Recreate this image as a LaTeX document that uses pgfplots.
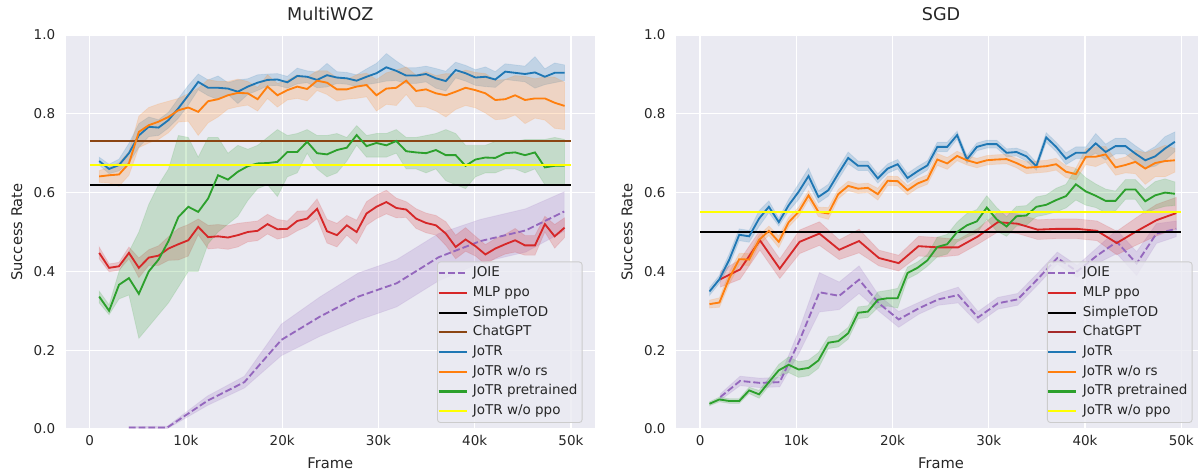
\documentclass[border=0pt]{standalone}
\usepackage{fontspec}
\setmainfont{DejaVu Sans}
\usepackage{pgfplots}
\pgfplotsset{compat=1.18}
\usepackage{pgfplotstable}
\usepgfplotslibrary{fillbetween}
\definecolor{bgc}{HTML}{EAEAF2}
\definecolor{txt}{HTML}{262626}
\definecolor{legc}{HTML}{CCCCCC}
\definecolor{tabblue}{HTML}{1F77B4}
\definecolor{taborange}{HTML}{FF7F0E}
\definecolor{tabgreen}{HTML}{2CA02C}
\definecolor{tabred}{HTML}{D62728}
\definecolor{tabpurple}{HTML}{9467BD}
\definecolor{yel}{HTML}{FFFF00}
\definecolor{chatA}{HTML}{8B4513}
\definecolor{chatB}{HTML}{A52A2A}

\pgfplotstableread{
x b be o oe g gl gu r re
0.98 0.680 0.010 0.641 0.015 0.336 0.320 0.350 0.447 0.015
2.01 0.660 0.012 0.644 0.020 0.300 0.290 0.315 0.409 0.010
3.04 0.670 0.015 0.646 0.030 0.366 0.330 0.400 0.413 0.010
4.07 0.700 0.025 0.674 0.030 0.383 0.340 0.450 0.447 0.015
5.10 0.745 0.030 0.754 0.040 0.343 0.230 0.500 0.409 0.025
6.13 0.767 0.025 0.771 0.045 0.400 0.260 0.570 0.435 0.020
7.15 0.765 0.020 0.780 0.045 0.430 0.290 0.620 0.440 0.025
8.18 0.784 0.020 0.792 0.040 0.477 0.320 0.660 0.458 0.030
9.21 0.814 0.025 0.809 0.030 0.538 0.360 0.745 0.469 0.040
10.24 0.847 0.025 0.816 0.035 0.564 0.400 0.740 0.479 0.040
11.27 0.881 0.020 0.805 0.060 0.551 0.400 0.690 0.513 0.020
12.30 0.866 0.020 0.832 0.055 0.585 0.470 0.740 0.487 0.030
13.33 0.866 0.030 0.837 0.045 0.644 0.500 0.740 0.489 0.030
14.36 0.864 0.015 0.847 0.035 0.633 0.520 0.700 0.486 0.030
15.39 0.856 0.030 0.853 0.035 0.653 0.540 0.720 0.492 0.030
16.42 0.869 0.020 0.852 0.030 0.667 0.580 0.710 0.500 0.025
17.44 0.879 0.020 0.837 0.030 0.674 0.610 0.720 0.503 0.025
18.47 0.886 0.015 0.869 0.030 0.675 0.620 0.740 0.520 0.025
19.50 0.887 0.015 0.847 0.030 0.678 0.590 0.760 0.507 0.025
20.53 0.880 0.015 0.860 0.025 0.703 0.640 0.745 0.508 0.020
21.56 0.896 0.020 0.869 0.030 0.703 0.650 0.750 0.528 0.025
22.59 0.894 0.015 0.863 0.030 0.729 0.700 0.760 0.534 0.020
23.62 0.886 0.020 0.884 0.025 0.700 0.660 0.745 0.559 0.025
24.65 0.898 0.030 0.879 0.030 0.697 0.640 0.745 0.502 0.030
25.68 0.892 0.015 0.862 0.030 0.708 0.650 0.750 0.492 0.030
26.71 0.890 0.015 0.862 0.025 0.714 0.680 0.740 0.517 0.025
27.73 0.884 0.015 0.869 0.030 0.746 0.720 0.770 0.500 0.030
28.76 0.894 0.020 0.873 0.030 0.718 0.690 0.745 0.547 0.030
29.79 0.903 0.025 0.847 0.040 0.726 0.690 0.750 0.564 0.030
30.82 0.918 0.035 0.864 0.040 0.720 0.690 0.750 0.576 0.030
31.85 0.909 0.025 0.866 0.045 0.731 0.700 0.760 0.561 0.025
32.88 0.897 0.020 0.884 0.035 0.705 0.660 0.740 0.557 0.020
33.91 0.897 0.020 0.858 0.040 0.702 0.660 0.740 0.534 0.025
34.94 0.901 0.020 0.862 0.045 0.700 0.650 0.745 0.523 0.025
35.97 0.890 0.025 0.852 0.045 0.708 0.660 0.750 0.517 0.025
37.00 0.883 0.025 0.847 0.055 0.695 0.630 0.760 0.496 0.030
38.02 0.911 0.020 0.856 0.045 0.695 0.620 0.750 0.462 0.030
39.05 0.903 0.020 0.866 0.045 0.668 0.610 0.720 0.481 0.030
40.08 0.892 0.020 0.860 0.045 0.684 0.640 0.720 0.464 0.025
41.11 0.894 0.025 0.852 0.050 0.689 0.650 0.720 0.443 0.025
42.14 0.887 0.020 0.835 0.050 0.688 0.650 0.730 0.458 0.025
43.17 0.907 0.020 0.837 0.050 0.700 0.660 0.730 0.469 0.025
44.20 0.904 0.020 0.847 0.050 0.702 0.660 0.730 0.479 0.030
45.23 0.901 0.020 0.835 0.060 0.695 0.650 0.735 0.466 0.025
46.26 0.905 0.040 0.839 0.050 0.702 0.660 0.735 0.466 0.025
47.29 0.894 0.020 0.839 0.055 0.664 0.620 0.735 0.520 0.020
48.31 0.904 0.025 0.828 0.065 0.668 0.620 0.740 0.489 0.030
49.34 0.904 0.020 0.820 0.060 0.668 0.620 0.735 0.511 0.025
}\tabL

\pgfplotstableread{
x j je
4.07 0.004 0.002
8.07 0.004 0.003
12.25 0.072 0.012
16.07 0.119 0.015
19.90 0.226 0.040
23.90 0.285 0.050
27.90 0.336 0.060
31.90 0.370 0.060
36.25 0.436 0.060
40.60 0.477 0.055
45.30 0.504 0.055
49.30 0.552 0.050
}\tabLJ

\pgfplotstableread{
x b be o oe g ge
0.98 0.349 0.010 0.317 0.010 0.064 0.005
2.01 0.380 0.010 0.321 0.012 0.075 0.006
3.04 0.430 0.015 0.383 0.015 0.071 0.006
4.07 0.493 0.015 0.431 0.015 0.071 0.006
5.10 0.489 0.015 0.430 0.015 0.098 0.008
6.13 0.534 0.020 0.480 0.012 0.088 0.010
7.15 0.564 0.015 0.503 0.012 0.119 0.010
8.18 0.525 0.010 0.475 0.015 0.149 0.015
9.21 0.568 0.015 0.525 0.012 0.163 0.020
10.24 0.602 0.020 0.551 0.012 0.151 0.020
11.27 0.642 0.020 0.593 0.012 0.155 0.020
12.30 0.589 0.015 0.551 0.012 0.174 0.020
13.33 0.606 0.015 0.547 0.015 0.219 0.015
14.36 0.648 0.015 0.596 0.012 0.223 0.015
15.39 0.688 0.015 0.617 0.012 0.243 0.015
16.42 0.668 0.012 0.610 0.012 0.295 0.015
17.44 0.668 0.012 0.612 0.012 0.298 0.015
18.47 0.636 0.012 0.596 0.015 0.328 0.020
19.50 0.661 0.012 0.630 0.012 0.332 0.020
20.53 0.672 0.012 0.629 0.012 0.332 0.025
21.56 0.637 0.012 0.606 0.012 0.396 0.015
22.59 0.654 0.012 0.623 0.012 0.409 0.015
23.62 0.669 0.012 0.633 0.012 0.428 0.015
24.65 0.716 0.012 0.684 0.015 0.462 0.025
25.68 0.716 0.012 0.674 0.015 0.469 0.025
26.71 0.746 0.010 0.693 0.012 0.500 0.025
27.73 0.684 0.010 0.682 0.012 0.517 0.030
28.76 0.716 0.010 0.675 0.012 0.527 0.030
29.79 0.723 0.010 0.682 0.012 0.562 0.030
30.82 0.723 0.010 0.684 0.012 0.532 0.030
31.85 0.701 0.010 0.685 0.012 0.514 0.025
32.88 0.703 0.010 0.675 0.012 0.540 0.025
33.91 0.692 0.012 0.663 0.015 0.542 0.025
34.94 0.667 0.010 0.665 0.015 0.564 0.025
35.97 0.740 0.012 0.667 0.015 0.569 0.025
37.00 0.716 0.012 0.672 0.015 0.581 0.030
38.02 0.686 0.015 0.653 0.015 0.591 0.030
39.05 0.701 0.015 0.647 0.015 0.621 0.040
40.08 0.701 0.015 0.691 0.020 0.603 0.035
41.11 0.725 0.025 0.691 0.025 0.592 0.030
42.14 0.703 0.020 0.697 0.020 0.579 0.030
43.17 0.718 0.020 0.664 0.020 0.579 0.025
44.20 0.718 0.020 0.670 0.020 0.608 0.025
45.23 0.699 0.020 0.678 0.030 0.608 0.025
46.26 0.682 0.020 0.661 0.040 0.578 0.030
47.29 0.692 0.025 0.675 0.035 0.593 0.035
48.31 0.712 0.030 0.680 0.040 0.600 0.035
49.34 0.729 0.025 0.682 0.030 0.597 0.030
}\tabR

\pgfplotstableread{
x r re j je
2.10 0.380 0.020 0.081 0.008
4.16 0.405 0.025 0.122 0.012
6.22 0.479 0.025 0.117 0.012
8.28 0.407 0.025 0.119 0.012
10.34 0.475 0.030 0.225 0.030
12.40 0.496 0.030 0.347 0.050
14.46 0.455 0.025 0.338 0.035
16.52 0.477 0.030 0.379 0.035
18.58 0.434 0.020 0.319 0.020
20.64 0.421 0.020 0.278 0.020
22.70 0.464 0.025 0.306 0.015
24.76 0.461 0.025 0.329 0.015
26.82 0.461 0.020 0.340 0.020
28.88 0.489 0.020 0.283 0.015
30.94 0.525 0.025 0.319 0.015
33.00 0.521 0.025 0.329 0.015
35.06 0.506 0.025 0.380 0.015
37.12 0.508 0.025 0.434 0.015
39.18 0.508 0.025 0.400 0.015
41.24 0.503 0.025 0.440 0.020
43.30 0.472 0.030 0.475 0.030
45.36 0.502 0.035 0.420 0.030
47.42 0.530 0.040 0.496 0.025
49.48 0.548 0.040 0.508 0.020
}\tabRR

% band: table, y col, e col, color, name
\newcommand{\band}[5]{%
\addplot[draw=none, forget plot, name path=#5u] table[x=x, y expr=\thisrow{#2}+\thisrow{#3}] {#1};
\addplot[draw=none, forget plot, name path=#5l] table[x=x, y expr=\thisrow{#2}-\thisrow{#3}] {#1};
\addplot[fill=#4, fill opacity=0.2, draw=#4, draw opacity=0.12, line width=0.8pt, forget plot] fill between[of=#5u and #5l];
}

\pgfplotsset{
 ln/.style={line width=1.84pt},
 sb/.style={
  scale only axis, height=394pt, ymin=0, ymax=1,
  axis background/.style={fill=bgc},
  axis line style={draw=none},
  major tick length=0pt,
  grid=major, major grid style={draw=white, line width=1.2pt},
  xtick={0,10,20,30,40,50}, xticklabels={0,10k,20k,30k,40k,50k},
  ytick={0,0.2,0.4,0.6,0.8,1}, yticklabels={0.0,0.2,0.4,0.6,0.8,1.0},
  /pgf/number format/assume math mode=true,
  tick label style={font=\fontsize{13.5}{16}\selectfont, text=txt},
  xticklabel style={yshift=-2.5pt},
  yticklabel style={xshift=-7pt},
  label style={font=\fontsize{14.7}{17}\selectfont, text=txt},
  title style={font=\fontsize{17.6}{20}\selectfont, text=txt, anchor=base},
  xlabel={Frame}, ylabel={Success Rate},
  legend cell align=left,
  legend image code/.code={\draw[##1, line width=2.1pt] (0pt,0pt) -- (28pt,0pt);},
  legend style={anchor=south west, yshift=6pt, fill=bgc, fill opacity=0.8, text opacity=1, draw opacity=1,
    draw=legc, line width=0.9pt, rounded corners=3pt,
    font=\fontsize{13.5}{16}\selectfont, text=txt,
    inner xsep=0pt, inner ysep=1.5pt,
    nodes={inner xsep=4.7pt, inner ysep=3pt, text height=10.2pt, text depth=3.5pt},
    /tikz/every odd column/.style={column sep=0.6pt}},
 },
}

\begin{document}
\begin{tikzpicture}
% ---------------- MultiWOZ
\begin{axis}[sb, at={(65.7pt,44pt)}, anchor=south west, width=529.3pt,
  xmin=-2.5, xmax=52.5, title={MultiWOZ},
  title style={at={(axis description cs:0.5,1.0228)}},
  xlabel style={at={(axis description cs:0.5,-0.1)}, anchor=base},
  ylabel style={at={(axis description cs:-0.0824,0.5)}, anchor=base},
  legend style={at={(0.7015,0)}}]
\band{\tabLJ}{j}{je}{tabpurple}{LJ}
\addplot[tabpurple, ln, dash pattern=on 6.8pt off 2.9pt] table[x=x, y=j] {\tabLJ};
\addlegendentry{JOIE}
\band{\tabL}{r}{re}{tabred}{LR}
\addplot[tabred, ln] table[x=x, y=r] {\tabL};
\addlegendentry{MLP ppo}
\addplot[black, ln] coordinates {(0,0.62) (50,0.62)};
\addlegendentry{SimpleTOD}
\addplot[chatA, ln] coordinates {(0,0.73) (50,0.73)};
\addlegendentry{ChatGPT}
\band{\tabL}{b}{be}{tabblue}{LB}
\addplot[tabblue, ln] table[x=x, y=b] {\tabL};
\addlegendentry{JoTR}
\band{\tabL}{o}{oe}{taborange}{LO}
\addplot[taborange, ln] table[x=x, y=o] {\tabL};
\addlegendentry{JoTR w/o rs}
\addplot[draw=none, forget plot, name path=LGu] table[x=x, y=gu] {\tabL};
\addplot[draw=none, forget plot, name path=LGl] table[x=x, y=gl] {\tabL};
\addplot[fill=tabgreen, fill opacity=0.2, draw=tabgreen, draw opacity=0.12, line width=0.8pt, forget plot] fill between[of=LGu and LGl];
\addplot[tabgreen, ln] table[x=x, y=g] {\tabL};
\addlegendentry{JoTR pretrained}
\addplot[yel, ln] coordinates {(0,0.67) (50,0.67)};
\addlegendentry{JoTR w/o ppo}
\end{axis}
% ---------------- SGD
\begin{axis}[sb, at={(676pt,44pt)}, anchor=south west, width=522pt,
  xmin=-2.5, xmax=51.74, title={SGD},
  title style={at={(axis description cs:0.5077,1.0228)}},
  xlabel style={at={(axis description cs:0.5077,-0.1)}, anchor=base},
  ylabel style={at={(axis description cs:-0.0835,0.5)}, anchor=base},
  legend style={at={(0.7107,0)}}]
\band{\tabRR}{j}{je}{tabpurple}{RJ}
\addplot[tabpurple, ln, dash pattern=on 6.8pt off 2.9pt] table[x=x, y=j] {\tabRR};
\addlegendentry{JOIE}
\band{\tabRR}{r}{re}{tabred}{RR}
\addplot[tabred, ln] table[x=x, y=r] {\tabRR};
\addlegendentry{MLP ppo}
\addplot[black, ln] coordinates {(0,0.50) (50,0.50)};
\addlegendentry{SimpleTOD}
\addlegendimage{chatB, ln}
\addlegendentry{ChatGPT}
\band{\tabR}{b}{be}{tabblue}{RB}
\addplot[tabblue, ln] table[x=x, y=b] {\tabR};
\addlegendentry{JoTR}
\band{\tabR}{o}{oe}{taborange}{RO}
\addplot[taborange, ln] table[x=x, y=o] {\tabR};
\addlegendentry{JoTR w/o rs}
\band{\tabR}{g}{ge}{tabgreen}{RG}
\addplot[tabgreen, ln] table[x=x, y=g] {\tabR};
\addlegendentry{JoTR pretrained}
\addplot[yel, ln] coordinates {(0,0.55) (50,0.55)};
\addlegendentry{JoTR w/o ppo}
\end{axis}
\pgfresetboundingbox
\useasboundingbox (0,0) rectangle (1198pt,473pt);
\end{tikzpicture}
\end{document}
